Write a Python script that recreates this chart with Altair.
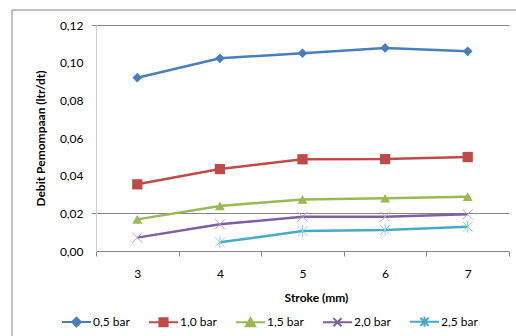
import altair as alt
import pandas as pd

stroke = [3, 4, 5, 6, 7]
series = ["0,5 bar", "1,0 bar", "1,5 bar", "2,0 bar", "2,5 bar"]
v05 = [0.0920, 0.1023, 0.1050, 0.1078, 0.1060]
v10 = [0.0354, 0.0435, 0.0487, 0.0488, 0.0499]
v15 = [0.0168, 0.0239, 0.0274, 0.0280, 0.0288]
v20 = [0.0071, 0.0142, 0.0182, 0.0182, 0.0195]
v25 = [None, 0.0046, 0.0106, 0.0112, 0.0129]
colors = ["#4A7EBB", "#BE4B48", "#98B954", "#7D60A0", "#46AAC5"]
yticks = [0.0, 0.02, 0.04, 0.06, 0.08, 0.10, 0.12]

rows = []
for name, vals in zip(series, [v05, v10, v15, v20, v25]):
    for s, v in zip(stroke, vals):
        if v is not None:
            rows.append({"stroke": s, "series": name, "debit": v})
df = pd.DataFrame(rows)

FONT = "Lato"
grid_test = "abs(datum.value-0.02)<1e-6 || abs(datum.value-0.12)<1e-6"

x_enc = alt.X(
    "stroke:O",
    scale=alt.Scale(type="band", paddingInner=0, paddingOuter=0),
    axis=alt.Axis(
        title="Stroke (mm)", tickBand="extent", labelAngle=0,
        domainColor="#868686", tickColor="#868686", tickSize=5,
        labelPadding=17, labelBaseline="middle",
        titleX=220, titleY=46, titleBaseline="middle", titleAlign="center",
    ),
)
y_enc = alt.Y(
    "debit:Q",
    scale=alt.Scale(domain=[0, 0.12], nice=False),
    axis=alt.Axis(
        title="Debit Pemompaan (ltr/dt)", values=yticks,
        labelExpr="replace(format(datum.value,'.2f'),'.',',')",
        grid=True, gridColor="#868686",
        gridOpacity=alt.ConditionalAxisNumber(condition={"test": grid_test, "value": 1}, value=0),
        tickOpacity=alt.ConditionalAxisNumber(condition={"test": grid_test, "value": 1}, value=0),
        tickColor="#868686", tickSize=5, domainColor="#D0D0D0",
        labelPadding=8,
        titleX=-56, titleY=113, titleAngle=270, titleBaseline="middle", titleAlign="center",
    ),
)
color_scale = alt.Scale(domain=series, range=colors)

base = alt.Chart(df)

lines = base.mark_line(strokeWidth=2.5).encode(
    x=x_enc, y=y_enc, color=alt.Color("series:N", scale=color_scale, legend=None),
    detail="series:N",
)

def pts(name, **kw):
    return base.transform_filter(alt.datum.series == name).mark_point(**kw).encode(x=x_enc, y=y_enc)

p1 = pts(series[0], shape="diamond", filled=True, size=95, color=colors[0], opacity=1)
p2 = pts(series[1], shape="square", filled=True, size=105, color=colors[1], opacity=1)
p3 = pts(series[2], shape="triangle-up", filled=True, size=100, color=colors[2], opacity=1)
p4 = pts(series[3], shape="M-1,-1L1,1M-1,1L1,-1", filled=False, size=100, color="#B0A0CC", strokeWidth=1, opacity=1)
p5 = pts(series[4], shape="M-1,-1L1,1M-1,1L1,-1M0,-1.2L0,1.2", filled=False, size=100, color="#8CCDE0", strokeWidth=1, opacity=1)

leg_shapes = [
    "M-1,0L1,0M0,-0.3L0.3,0L0,0.3L-0.3,0Z",
    "M-1,0L1,0M-0.28,-0.28L0.28,-0.28L0.28,0.28L-0.28,0.28Z",
    "M-1,0L1,0M0,-0.3L0.32,0.26L-0.32,0.26Z",
    "M-1,0L1,0M-0.28,-0.28L0.28,0.28M-0.28,0.28L0.28,-0.28",
    "M-1,0L1,0M-0.28,-0.28L0.28,0.28M-0.28,0.28L0.28,-0.28M0,-0.34L0,0.34",
]
legend = alt.Legend(
    title=None, orient="none", direction="horizontal", columns=5,
    legendX=-35, legendY=281, symbolSize=841, symbolStrokeWidth=2,
    labelFont=FONT, labelFontSize=12, labelColor="#000000", labelOffset=1,
    columnPadding=15, symbolOffset=0,
)
leg = base.transform_filter("false").mark_point(filled=True, opacity=1).encode(
    x=x_enc, y=y_enc,
    shape=alt.Shape("series:N", scale=alt.Scale(domain=series, range=leg_shapes), legend=legend),
    fill=alt.Fill("series:N", scale=alt.Scale(domain=series, range=colors), legend=legend),
    stroke=alt.Stroke("series:N", scale=alt.Scale(domain=series, range=colors), legend=legend),
)

border = alt.Chart(alt.Data(values=[{"a": 1}])).mark_rect(
    fillOpacity=0, stroke="#878787", strokeWidth=1
).encode(x=alt.value(-84), x2=alt.value(440), y=alt.value(-15), y2=alt.value(330))

chart = alt.layer(border, lines, p1, p2, p3, p4, p5, leg).resolve_scale(
    color="independent"
).properties(
    width=413, height=226,
    autosize=alt.AutoSizeParams(type="none"),
    padding={"left": 96, "top": 25, "right": 7, "bottom": 85},
    background="white",
).configure_view(stroke=None).configure_axis(
    labelFont=FONT, labelFontSize=12, labelColor="#000000",
    titleFont=FONT, titleFontSize=12, titleFontWeight="bold", titleColor="#000000",
)

chart.save("out.html", embed_options={"renderer": "svg", "actions": False})
